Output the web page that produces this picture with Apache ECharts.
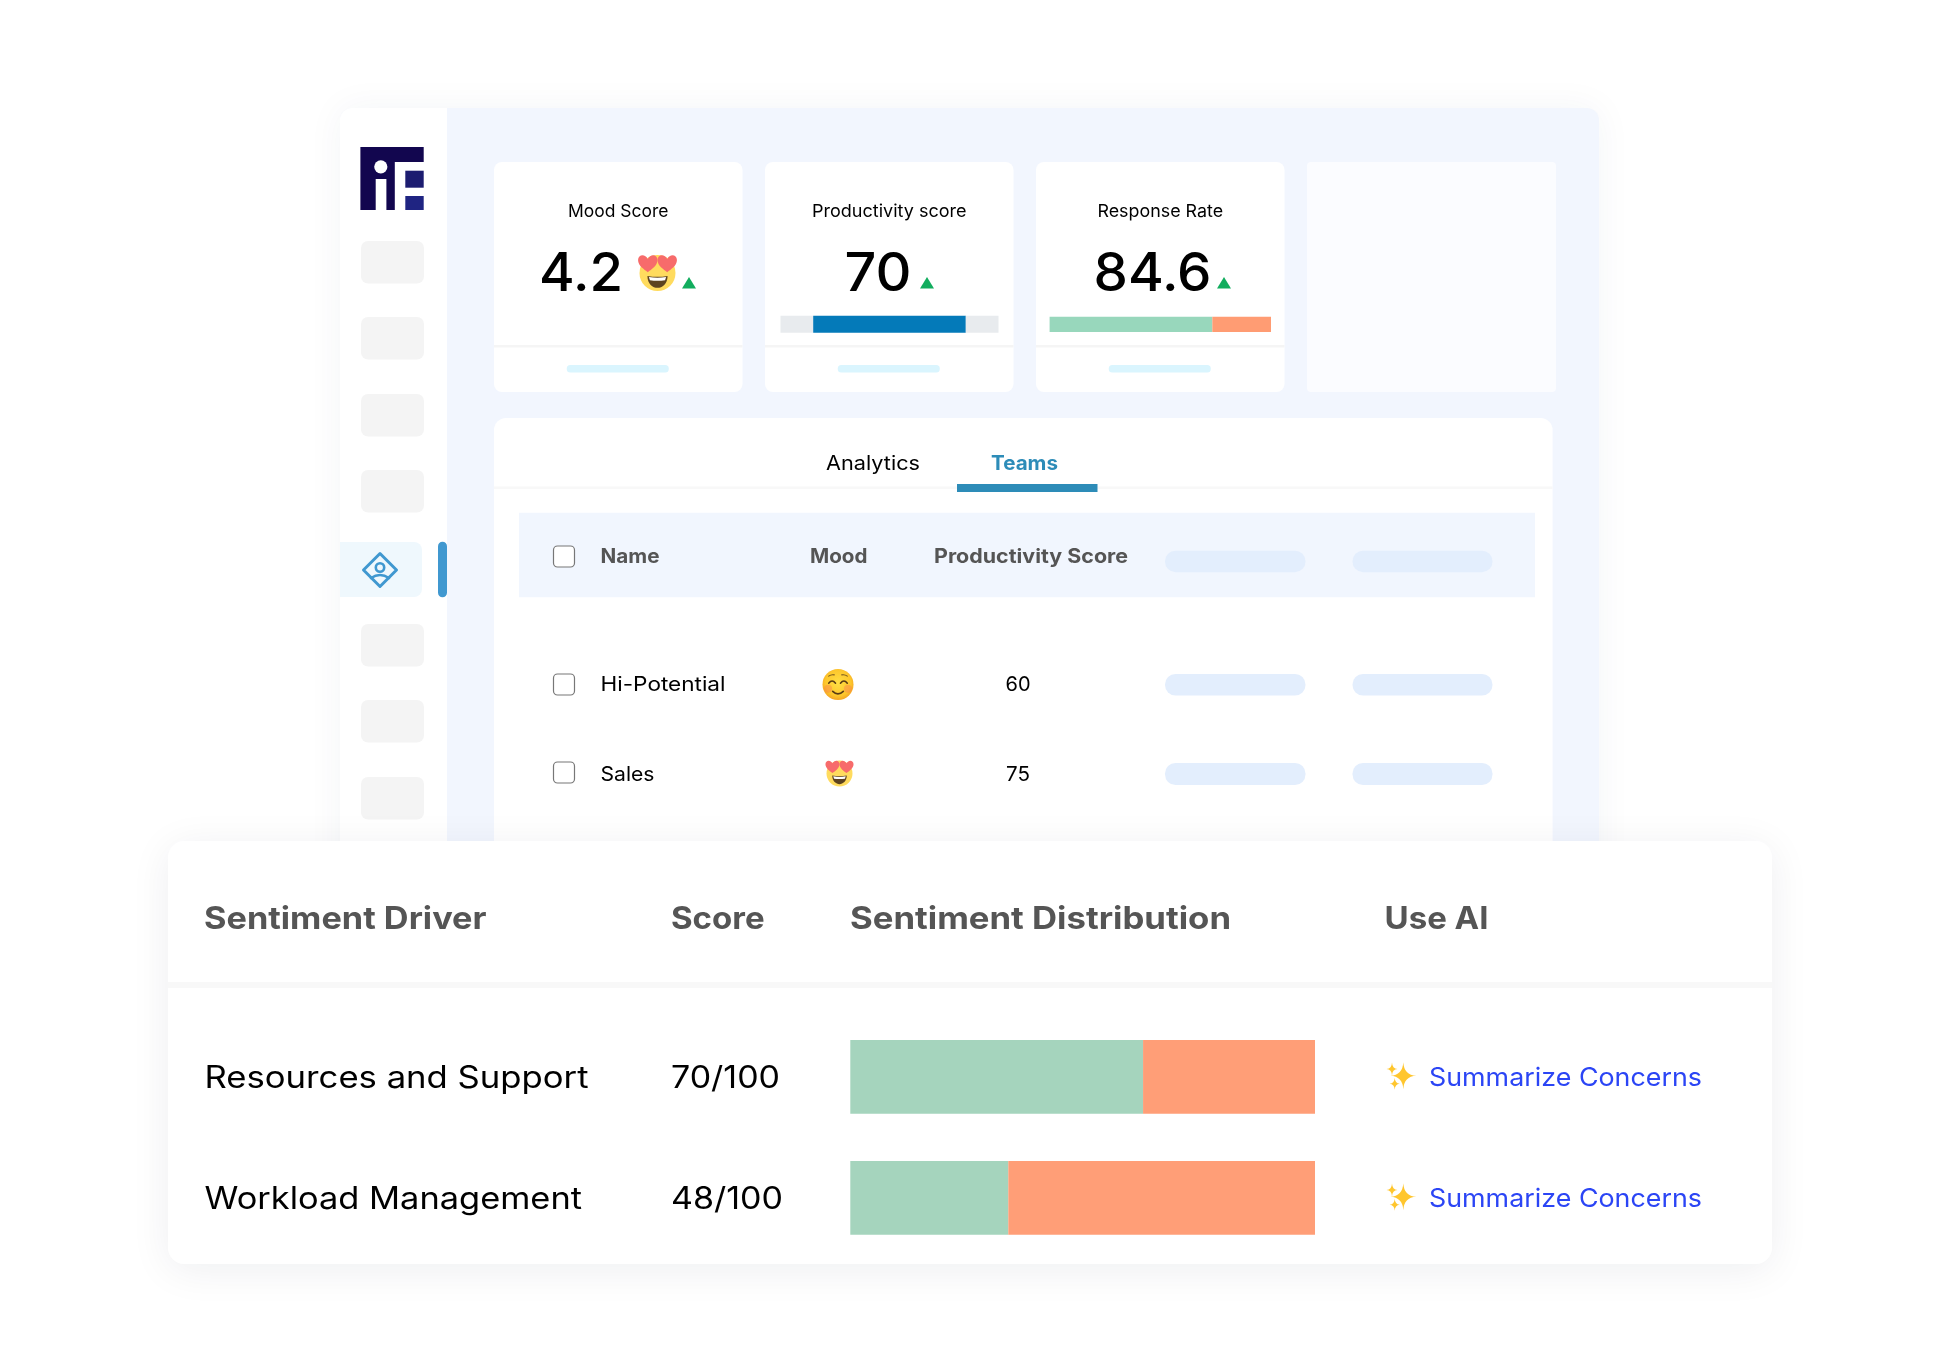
<!DOCTYPE html>
<html>
<head>
<meta charset="utf-8">
<title>Sentiment dashboard</title>
<script src="https://cdn.jsdelivr.net/npm/echarts@6/dist/echarts.min.js"></script>
<style>
  html, body { margin: 0; padding: 0; background: #fff; }
  #main { width: 1940px; height: 1372px; }
</style>
</head>
<body>
<div id="main"></div>
<script>
// chart values
const drivers = ['Resources and Support', 'Workload Management'];
const driverScores = [70, 48];
const positiveShare = [63, 34];
const negativeShare = [37, 66];
const tableColumns = ['Sentiment Driver', 'Score', 'Sentiment Distribution', 'Use AI'];
const actionLabel = 'Summarize Concerns';

const cardTitles = ['Mood Score', 'Productivity score', 'Response Rate'];
const cardValues = ['4.2', '70', '84.6'];
const productivityGauge = [15, 70, 15];
const responseGauge = [73.5, 26.5];

const tabs = ['Analytics', 'Teams'];
const teamColumns = ['Name', 'Mood', 'Productivity Score'];
const teamNames = ['Hi-Potential', 'Sales'];
const teamScores = [60, 75];

const FONT = 'Inter';
const myChart = echarts.init(document.getElementById('main'));
const measure = document.createElement('canvas').getContext('2d');

function rect(x, y, w, h, fill, r, extra) {
  return { type: 'rect', z: (extra && extra.z) || 0, shape: { x, y, width: w, height: h, r: r || 0 },
    style: Object.assign({ fill }, extra && extra.style) };
}
// the original face is wider than Inter, so each text is stretched to the width it has there
function label(x, y, text, size, fill, weight, width, align) {
  weight = weight || 400;
  measure.font = `${weight} ${size}px ${FONT}`;
  return { type: 'text', z: 10, x, y: y + size * 0.065, scaleX: width / measure.measureText(text).width,
    style: { text, fill, fontSize: size, fontFamily: FONT, fontWeight: weight, align: align || 'left', verticalAlign: 'middle' } };
}
// graphic has no path type, so each svg path gets registered as its own shape
let pathCount = 0;
function shape(d, fill, stroke, lineWidth) {
  const name = 'svgPath' + (pathCount++);
  echarts.graphic.registerShape(name, echarts.graphic.extendPath(d, {}));
  return { type: name, z: 10,
    style: { fill: fill || 'none', stroke: stroke || 'none', lineWidth: lineWidth || 0, lineCap: 'round', lineJoin: 'round' } };
}
function triangle(x, y) {
  return { type: 'polygon', z: 10, shape: { points: [[x, y + 11.5], [x + 7, y], [x + 14, y + 11.5]] }, style: { fill: '#12ad5e' } };
}
function checkbox(x, y) {
  return { type: 'rect', z: 10, shape: { x, y, width: 21, height: 21, r: 4 }, style: { fill: '#fff', stroke: '#777', lineWidth: 1.2 } };
}
// emoji are drawn in a unit where the face radius is 50
function heartEmoji(cx, cy, r) {
  const heart = 'M0 24 C-10 16 -27 6 -27 -10 C-27 -25 -8 -29 0 -13 C8 -29 27 -25 27 -10 C27 6 10 16 0 24Z';
  const s = r / 50;
  return { type: 'group', x: cx, y: cy, scaleX: s, scaleY: s, children: [
    { type: 'circle', z: 10, shape: { cx: 0, cy: 0, r: 50 }, style: { fill: '#ffdb5e' } },
    { type: 'group', x: -27, y: -26, children: [shape(heart, '#f76b6b')] },
    { type: 'group', x: 27, y: -26, children: [shape(heart, '#f76b6b')] },
    shape('M-28 8 Q0 13 28 8 C28 30 13 41 0 41 C-13 41 -28 30 -28 8Z', '#5d4320'),
    shape('M-24 11 Q0 15 24 11 L21 20 Q0 23 -21 20Z', '#ffffff')
  ] };
}
function smileEmoji(cx, cy, r) {
  const s = r / 50;
  return { type: 'group', x: cx, y: cy, scaleX: s, scaleY: s, children: [
    { type: 'circle', z: 10, shape: { cx: 0, cy: 0, r: 50 }, style: {
      fill: { type: 'radial', x: 0.5, y: 0.45, r: 0.55, colorStops: [{ offset: 0, color: '#ffdf45' }, { offset: 0.75, color: '#fdc72c' }, { offset: 1, color: '#f5a623' }] } } },
    { type: 'circle', z: 10, shape: { cx: -32, cy: 14, r: 13 }, style: { fill: 'rgba(250,110,90,0.35)' } },
    { type: 'circle', z: 10, shape: { cx: 32, cy: 14, r: 13 }, style: { fill: 'rgba(250,110,90,0.35)' } },
    shape('M-30 -4 Q-19 -18 -8 -4', null, '#5a3c14', 5),
    shape('M30 -4 Q19 -18 8 -4', null, '#5a3c14', 5),
    shape('M-30 -27 Q-22 -33 -12 -31', null, '#7a5a20', 3.5),
    shape('M30 -27 Q22 -33 12 -31', null, '#7a5a20', 3.5),
    shape('M-17 22 Q0 38 17 22', null, '#5a3c14', 5.5)
  ] };
}
function sparkles(dy) {
  const star = (x, y, rx, ry) => {
    const k = 0.05;
    const d = `M0 ${-ry} Q${rx * k} ${-ry * k} ${rx} 0 Q${rx * k} ${ry * k} 0 ${ry} Q${-rx * k} ${ry * k} ${-rx} 0 Q${-rx * k} ${-ry * k} 0 ${-ry}Z`;
    return { type: 'group', x, y: y + dy, children: [shape(d, '#ffc62e')] };
  };
  return [star(1403.3, 1075.7, 13, 13.5), star(1392, 1069, 5.5, 6.5), star(1394.7, 1083.7, 5, 6)];
}

const elements = [];
// back panel + sidebar
elements.push(rect(340, 108, 1259, 800, '#f2f6fe', 12, { style: { shadowBlur: 36, shadowColor: 'rgba(30,50,90,0.05)' } }));
elements.push(rect(340, 108, 107, 800, '#ffffff', [12, 0, 0, 12]));

// logo
elements.push(shape('M360.4 147 H423.7 V162 H394.8 V210 H386.4 V179 H375.7 V210 H360.4Z', '#12064f'));
elements.push({ type: 'circle', z: 11, shape: { cx: 380.8, cy: 166.8, r: 6.6 }, style: { fill: '#fff' } });
elements.push(rect(405.3, 170.7, 18.4, 17, '#1c1c70', 0, { z: 10 }));
elements.push(rect(405.3, 196, 18.4, 14, '#1f2482', 0, { z: 10 }));

// sidebar placeholders
[241, 317, 394, 470, 624, 700, 777].forEach(y => elements.push(rect(361, y, 63, 42.5, '#f4f4f4', 7)));
elements.push(rect(340, 542, 82, 55, '#eff8fd', [0, 8, 8, 0]));
elements.push(rect(438, 541.7, 9, 55.5, '#4098d0', 4.5));
elements.push({ type: 'polygon', z: 10, shape: { points: [[380, 553.5], [396.5, 570], [380, 586.5], [363.5, 570]] },
  style: { fill: 'none', stroke: '#4098d0', lineWidth: 3, lineJoin: 'round' } });
elements.push({ type: 'circle', z: 10, shape: { cx: 380, cy: 567.5, r: 4.2 }, style: { fill: 'none', stroke: '#4098d0', lineWidth: 2.6 } });
elements.push(shape('M371 578 Q380 572 389 578', null, '#4098d0', 2.6));

// top cards
const cardX = [494, 765, 1036];
const cardW = 248.5;
const cardTitleW = [100.5, 154.6, 125.7];
cardTitles.forEach((t, i) => {
  const cx = cardX[i] + cardW / 2;
  elements.push(rect(cardX[i], 162, cardW, 230, '#ffffff', 8));
  elements.push(rect(cardX[i], 345, cardW, 2.4, '#f5f5f5'));
  elements.push(rect(cx - 51.5, 365, 102, 7.5, '#daf5fe', 3.5));
  elements.push(label(cx, 211, t, 17.5, '#000', 400, cardTitleW[i], 'center'));
});
elements.push(rect(1307, 162, 249, 230, '#fbfcff', 4));
[[539, 84], [844.5, 67], [1093.5, 118]].forEach((p, i) => elements.push(label(p[0], 271.5, cardValues[i], 53, '#000', 500, p[1])));
elements.push(heartEmoji(657.5, 273, 18));
elements.push(triangle(682, 277), triangle(920, 277), triangle(1217, 277));

// teams table
elements.push(rect(494, 418, 1058.6, 430, '#ffffff', [12, 12, 0, 0]));
elements.push(rect(494, 486.5, 1058.6, 2.6, '#f8f8f8'));
elements.push(label(826, 463, tabs[0], 20, '#000', 400, 94));
elements.push(label(991, 463, tabs[1], 20, '#2d8cb8', 700, 67));
elements.push(rect(957, 484, 140.5, 8, '#2d8cb8'));
elements.push(rect(519, 512.7, 1016, 84.5, '#f1f6fe'));
[[600.5, 59], [810, 57.5], [934, 194]].forEach((p, i) => elements.push(label(p[0], 555.5, teamColumns[i], 19.5, '#555', 700, p[1])));
[546, 674, 762].forEach(y => elements.push(checkbox(553.5, y)));
teamNames.forEach((n, i) => {
  const y = [684, 773.5][i];
  elements.push(label(600.5, y, n, 20, '#000', 400, [125, 54][i]));
  elements.push(label(1018, y, String(teamScores[i]), 20, '#000', 400, [25, 24][i], 'center'));
});
elements.push(smileEmoji(838, 684.5, 15.5));
elements.push(heartEmoji(839.5, 773.5, 13));
[[550.7, 21.5], [674, 21.5], [763, 22]].forEach(r => {
  elements.push(rect(1165, r[0], 140.5, r[1], '#e3eefd', 10.5));
  elements.push(rect(1352.5, r[0], 140, r[1], '#e3eefd', 10.5));
});

// front card with the sentiment table
elements.push(rect(168, 841, 1604, 423, '#ffffff', 16, { z: 1, style: { shadowBlur: 40, shadowColor: 'rgba(20,30,60,0.07)', shadowOffsetY: 6 } }));
elements.push({ type: 'rect', z: 1, shape: { x: 168, y: 982, width: 1604, height: 6 }, style: { fill: '#f8f8f8' } });
[[204, 282.5], [671, 93.6], [850, 381], [1384.5, 104]].forEach((p, i) => elements.push(label(p[0], 918, tableColumns[i], 31, '#555', 700, p[1])));
drivers.forEach((d, i) => {
  const y = [1077, 1198][i];
  elements.push(label(204.5, y, d, 30.5, '#000', 400, [384, 377.5][i]));
  elements.push(label(671, y, driverScores[i] + '/100', 30.5, '#000', 400, [109, 112][i]));
  elements.push(label(1429, y, actionLabel, 25.7, '#2b45f5', 400, 273));
  sparkles(i * 121).forEach(e => elements.push(e));
});

function hiddenAxes(gridIndex, cats) {
  return {
    x: { type: 'value', gridIndex, min: 0, max: 100, show: false },
    y: { type: 'category', gridIndex, data: cats, inverse: true, axisLine: { show: false }, axisTick: { show: false }, axisLabel: { show: false } }
  };
}
const a0 = hiddenAxes(0, drivers);
const a1 = hiddenAxes(1, ['Productivity score']);
const a2 = hiddenAxes(2, ['Response Rate']);

function stack(name, data, color, xAxisIndex, barWidth, stackId) {
  return { type: 'bar', name, data, stack: stackId, xAxisIndex, yAxisIndex: xAxisIndex, barWidth,
    itemStyle: { color }, silent: true, animation: false };
}

const options = {
  animation: false,
  backgroundColor: '#ffffff',
  tooltip: { show: false },
  grid: [
    { left: 850.3, top: 1016.4, width: 464.7, height: 242 },
    { left: 780.5, top: 315.7, width: 218, height: 17 },
    { left: 1049.6, top: 316.7, width: 221.4, height: 15.3 }
  ],
  xAxis: [a0.x, a1.x, a2.x],
  yAxis: [a0.y, a1.y, a2.y],
  series: [
    stack('Positive', positiveShare, '#a5d4bd', 0, 73.8, 'sentiment'),
    stack('Negative', negativeShare, '#ff9e77', 0, 73.8, 'sentiment'),
    stack('Low', [productivityGauge[0]], '#e8ebee', 1, 17, 'prod'),
    stack('Score', [productivityGauge[1]], '#047ab9', 1, 17, 'prod'),
    stack('High', [productivityGauge[2]], '#e8ebee', 1, 17, 'prod'),
    stack('Positive rate', [responseGauge[0]], '#98d7bc', 2, 15.3, 'resp'),
    stack('Negative rate', [responseGauge[1]], '#ff9c73', 2, 15.3, 'resp')
  ],
  graphic: { elements }
};
myChart.setOption(options);
</script>
</body>
</html>
